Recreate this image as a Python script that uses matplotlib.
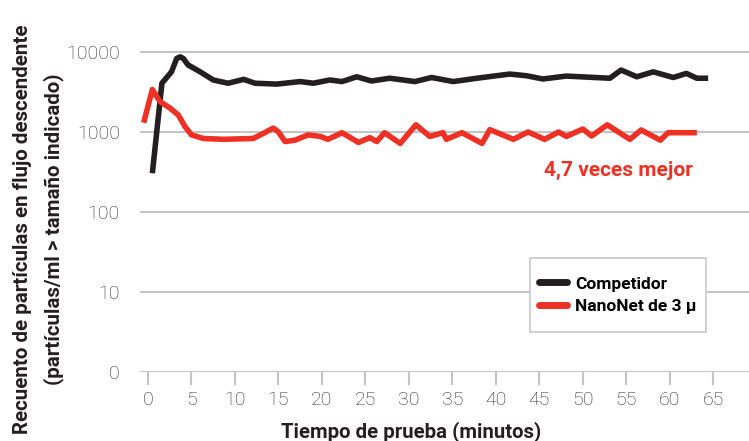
import numpy as np
import matplotlib.pyplot as plt
from matplotlib.patches import Rectangle

# Competidor (black)
t_comp = [0.5, 1.6, 2.7, 3.3, 3.7, 4.06, 4.6, 6.0, 7.5, 9.2, 11.0, 12.3, 14.8, 17.5, 19.0,
          20.9, 22.3, 24.0, 25.7, 27.8, 30.7, 32.6, 35.1, 37.8, 41.6, 43.5, 45.4, 48.1,
          53.1, 54.4, 56.2, 58.1, 60.4, 61.9, 63.1, 64.4]
v_comp = [305, 4070, 5650, 8300, 8700, 8300, 6900, 5650, 4470, 4070, 4550, 4070, 3970, 4270, 4070,
          4470, 4270, 4900, 4340, 4700, 4270, 4800, 4270, 4700, 5300, 5050, 4600, 5000,
          4700, 5950, 4900, 5650, 4800, 5400, 4700, 4700]

# NanoNet de 3 µ (red)
t_nano = [-0.5, 0.5, 1.38, 2.53, 3.48, 4.25, 5.0, 6.36, 8.66, 12.1, 13.25, 14.4, 15.0, 15.75,
          16.9, 18.4, 19.8, 20.7, 22.3, 24.2, 25.5, 26.3, 27.2, 29.0, 30.8, 32.4, 33.9, 34.3,
          36.1, 38.4, 39.3, 42.0, 43.7, 45.6, 47.2, 48.1, 50.0, 51.0, 52.8, 55.4, 56.7, 58.9,
          59.8, 63.1]
v_nano = [1306, 3400, 2400, 1990, 1630, 1170, 920, 830, 810, 830, 960, 1120, 1000, 760,
          790, 920, 880, 810, 980, 740, 850, 760, 980, 720, 1230, 880, 980, 810,
          980, 720, 1070, 810, 1000, 810, 1000, 880, 1090, 890, 1230, 810, 1060, 790,
          980, 980]

yticks = [1, 10, 100, 1000, 10000]
ytick_labels = ['0', '10', '100', '1000', '10000']
xticks = list(range(0, 70, 5))

RED = '#ee3124'
BLACK = '#231f20'
GRID = '#c4c4c4'

plt.rcParams['font.family'] = ['Roboto', 'DejaVu Sans']

fig = plt.figure(figsize=(7.49, 4.41), dpi=100)
ax = fig.add_axes([140/749, 1 - 372/441, 1 - 140/749, 372/441])
ax.set_yscale('log')
ax.set_ylim(1, 10 ** (372/80))
ax.set_xlim(-0.92, 69.1)

for y in yticks:
    ax.axhline(y, color=GRID, lw=1.5, zorder=1)

ax.plot(t_comp, v_comp, color=BLACK, lw=4, solid_joinstyle='round', solid_capstyle='butt',
        label='Competidor', zorder=3, clip_on=False)
ax.plot(t_nano, v_nano, color=RED, lw=4, solid_joinstyle='round', solid_capstyle='butt',
        label='NanoNet de 3 µ', zorder=3, clip_on=False)

for s in ax.spines.values():
    s.set_visible(False)

ax.set_yticks(yticks)
ax.set_yticklabels(ytick_labels)
ax.yaxis.set_minor_locator(plt.NullLocator())
ax.tick_params(axis='y', length=0, pad=14.5, labelsize=14, labelcolor='#2b2b2b')
ax.set_xticks(xticks)
ax.tick_params(axis='x', length=9, width=1.5, color=GRID, direction='out', pad=5,
               labelsize=14, labelcolor='#2b2b2b')
for lab in ax.get_xticklabels() + ax.get_yticklabels():
    lab.set_fontweight('light')

# legend box drawn separately (taller than matplotlib's symmetric padding)
ax.add_patch(Rectangle((530/749, 1 - 332/441), 176/749, 74/441, transform=fig.transFigure,
                       facecolor='white', edgecolor='#c8c8c8', lw=1.2, zorder=4, clip_on=False))
leg = ax.legend(loc='center', bbox_to_anchor=((618-140)/609, 1 - 295/372),
                frameon=False, prop={'weight': 'bold', 'size': 12.5}, handlelength=1.6,
                handletextpad=0.5, borderpad=0, labelspacing=0.4, borderaxespad=0)
leg.set_zorder(5)
for h in leg.get_lines():
    h.set_linewidth(5)
    h.set_solid_capstyle('round')

fig.text(618/749, 1 - 170/441, '4,7 veces mejor', color=RED, fontsize=15,
         fontweight='bold', ha='center', va='center')

fig.text(23/749, 1 - 229/441, 'Recuento de partículas en flujo descendente',
         rotation=90, fontsize=14.8, fontweight='bold', ha='center', va='center', color=BLACK)
fig.text(54/749, 1 - 229/441, '(partículas/ml > tamaño indicado)',
         rotation=90, fontsize=14.8, fontweight='bold', ha='center', va='center', color=BLACK)
fig.text(411/749, 1 - 432/441, 'Tiempo de prueba (minutos)', fontsize=14.7,
         fontweight='bold', ha='center', va='center', color=BLACK)

fig.savefig('out.png', dpi=100)
